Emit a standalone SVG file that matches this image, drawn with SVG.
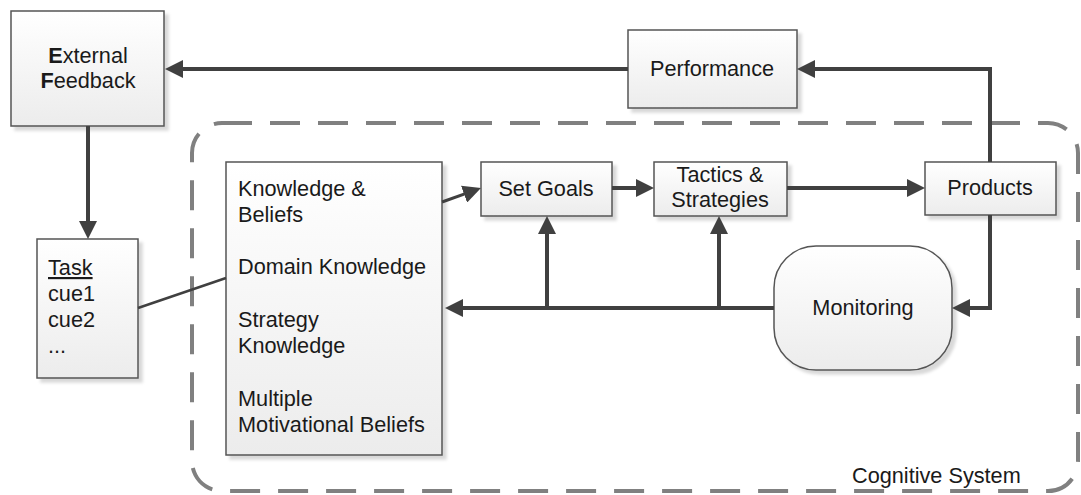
<svg xmlns="http://www.w3.org/2000/svg" width="1081" height="495" viewBox="0 0 1081 495">
<defs>
<linearGradient id="g" x1="0" y1="0" x2="0" y2="1">
<stop offset="0" stop-color="#ffffff"/>
<stop offset="1" stop-color="#ececec"/>
</linearGradient>
<filter id="sh" x="-10%" y="-10%" width="130%" height="130%">
<feDropShadow dx="4" dy="4" stdDeviation="1.5" flood-color="#000" flood-opacity="0.15"/>
</filter>
<marker id="arr" viewBox="0 0 18 18" refX="6" refY="9" markerWidth="18" markerHeight="18" orient="auto" markerUnits="userSpaceOnUse">
<path d="M0,0 L18,9 L0,18 z" fill="#404040"/>
</marker>
</defs>
<style>
.box{fill:url(#g);stroke:#555;stroke-width:1.5;filter:url(#sh)}
.t{font-family:"Liberation Sans",Arial,sans-serif;font-size:21.7px;fill:#1a1a1a}
.c{text-anchor:middle}
.con{fill:none;stroke:#404040;stroke-width:4}
.arrow{marker-end:url(#arr)}
</style>
<rect id="container" x="192" y="123" width="886" height="368" rx="30" fill="none" stroke="#808080" stroke-width="4" stroke-dasharray="30 18"/>
<text class="t" x="852" y="483">Cognitive System</text>
<g id="external-feedback">
<rect class="box" x="11" y="11" width="153" height="115"/>
<text class="t c" x="88" y="63"><tspan font-weight="bold">E</tspan>xternal</text>
<text class="t c" x="88" y="88"><tspan font-weight="bold">F</tspan>eedback</text>
</g>
<g id="performance">
<rect class="box" x="628" y="30" width="169" height="78"/>
<text class="t c" x="712" y="76">Performance</text>
</g>
<g id="task">
<rect class="box" x="37" y="239" width="101" height="139"/>
<text class="t" x="48" y="275" text-decoration="underline">Task</text>
<text class="t" x="48" y="301">cue1</text>
<text class="t" x="48" y="327">cue2</text>
<text class="t" x="48" y="353">...</text>
</g>
<g id="knowledge">
<rect class="box" x="226" y="162" width="216" height="293"/>
<text class="t" x="238" y="196">Knowledge &amp;</text>
<text class="t" x="238" y="222">Beliefs</text>
<text class="t" x="238" y="274">Domain Knowledge</text>
<text class="t" x="238" y="327">Strategy</text>
<text class="t" x="238" y="353">Knowledge</text>
<text class="t" x="238" y="406">Multiple</text>
<text class="t" x="238" y="432">Motivational Beliefs</text>
</g>
<g id="set-goals">
<rect class="box" x="481" y="162" width="131" height="54"/>
<text class="t c" x="546" y="196">Set Goals</text>
</g>
<g id="tactics">
<rect class="box" x="654" y="162" width="133" height="54"/>
<text class="t c" x="720" y="182">Tactics &amp;</text>
<text class="t c" x="720" y="207">Strategies</text>
</g>
<g id="products">
<rect class="box" x="925" y="162" width="131" height="53"/>
<text class="t c" x="990" y="195">Products</text>
</g>
<g id="monitoring">
<rect class="box" x="774" y="246" width="178" height="124" rx="42"/>
<text class="t c" x="863" y="315">Monitoring</text>
</g>
<g id="connectors">
<path class="con arrow" d="M628,69 H177"/>
<path class="con arrow" d="M88,126 V227"/>
<path class="con" style="stroke-width:2.5" d="M138,308 L226,278"/>
<path class="con arrow" style="stroke-width:3" d="M442,202 L469.7,192.1"/>
<path class="con arrow" d="M612,188 H642"/>
<path class="con arrow" d="M787,188 H913"/>
<path class="con arrow" d="M990,162 V69 H809"/>
<path class="con arrow" d="M990,215 V308 H964"/>
<path class="con arrow" d="M774,308 H457"/>
<path class="con arrow" d="M547,308 V228"/>
<path class="con arrow" d="M719,308 V228"/>
</g>
</svg>
